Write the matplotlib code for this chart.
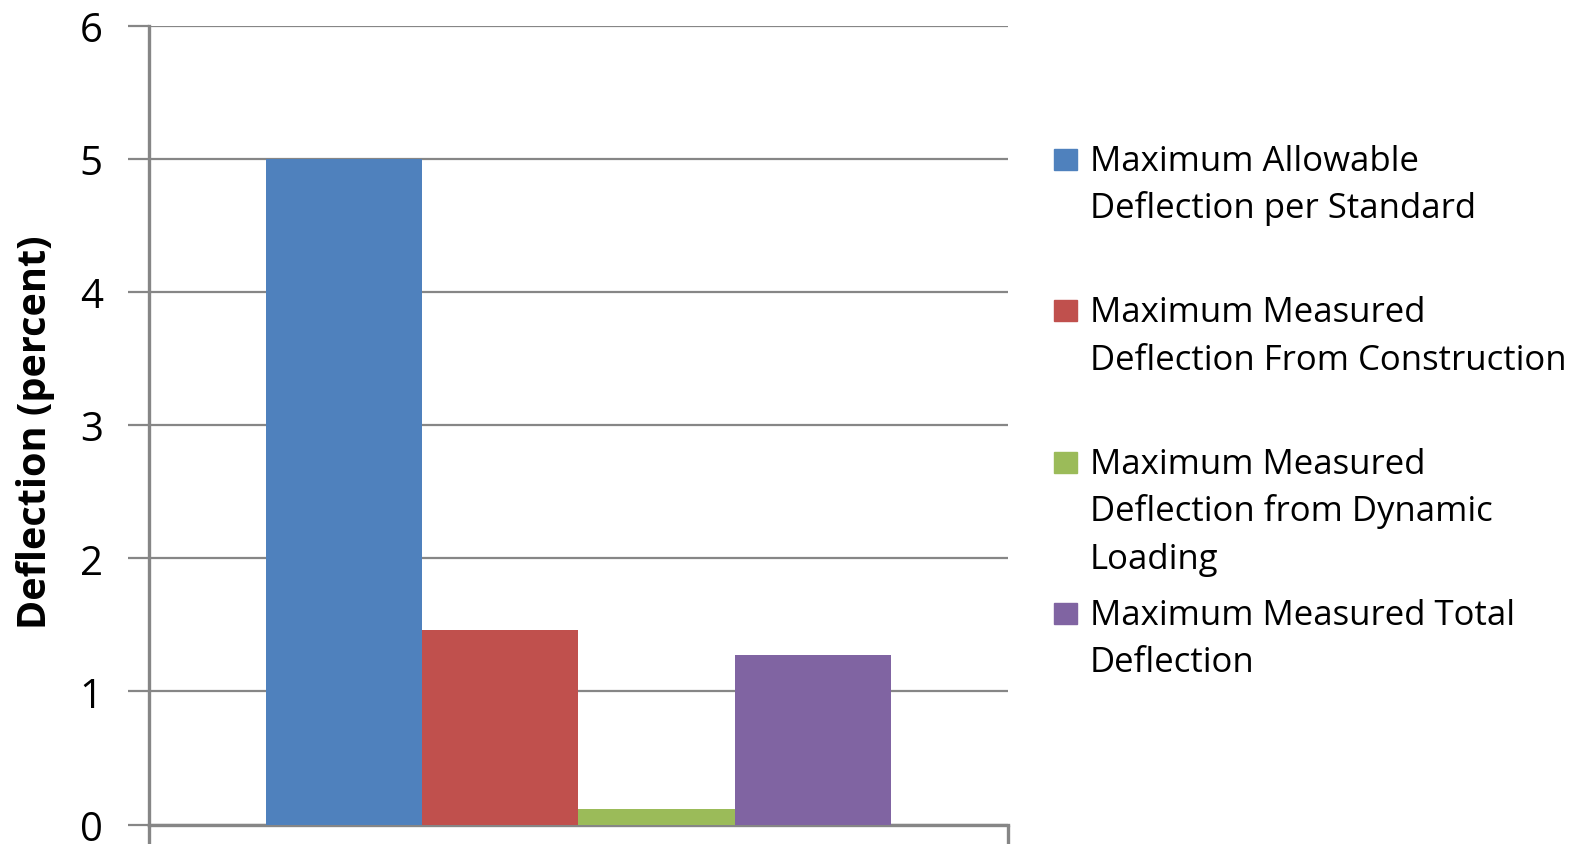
import numpy as np
import matplotlib.pyplot as plt
from matplotlib.patches import Rectangle

# deflection results (percent)
series = ["Maximum Allowable\nDeflection per Standard",
          "Maximum Measured\nDeflection From Construction",
          "Maximum Measured\nDeflection from Dynamic\nLoading",
          "Maximum Measured Total\nDeflection"]
values = [5.0, 1.46, 0.12, 1.27]
colors = ["#4F81BD", "#C0504D", "#9BBB59", "#8064A2"]
yticks = [0, 1, 2, 3, 4, 5, 6]

W, H = 1585, 845
plt.rcParams['font.family'] = ['Open Sans', 'DejaVu Sans']
fig = plt.figure(figsize=(W / 100, H / 100), dpi=100)
ax = fig.add_axes([148.6 / W, 1 - 825.5 / H, (1008 - 148.6) / W, (825.5 - 27) / H])

n = len(values)
w = 1 / (n + 1.5)
x = (np.arange(n) - (n - 1) / 2) * w
ax.bar(x, values, width=w, color=colors, zorder=3)

grid = "#868686"
ax.set_xlim(-0.5, 0.5)
ax.set_ylim(0, 6)
ax.set_yticks(yticks)
ax.set_xticks([-0.5, 0.5])
ax.set_xticklabels([])
ax.yaxis.grid(True, color=grid, linewidth=1.6, zorder=0)
for s in ["top", "right"]:
    ax.spines[s].set_visible(False)
for s in ["left", "bottom"]:
    ax.spines[s].set_color(grid)
    ax.spines[s].set_linewidth(2.4)
ax.tick_params(axis='y', length=15, width=1.6, color=grid, pad=18, labelsize=29)
ax.tick_params(axis='x', length=22, width=2.4, color=grid)
for lbl in ax.get_yticklabels():
    lbl.set_clip_on(False)

fig.text(36 / W, 1 - 432 / H, "Deflection (percent)", rotation=90,
         fontsize=28.5, fontweight='bold', ha='center', va='center')

# legend, one entry every ~151 px
for i, (lab, c) in enumerate(zip(series, colors)):
    base = 171 + 151.3 * i
    fig.patches.append(Rectangle((1054 / W, 1 - 171 / H - 151.3 * i / H), 23 / W, 21 / H,
                                 transform=fig.transFigure, color=c))
    for j, line in enumerate(lab.split("\n")):
        fig.text(1090 / W, 1 - (base + 47.5 * j) / H, line, fontsize=25,
                 ha='left', va='baseline')

fig.savefig("out.png", dpi=100)
